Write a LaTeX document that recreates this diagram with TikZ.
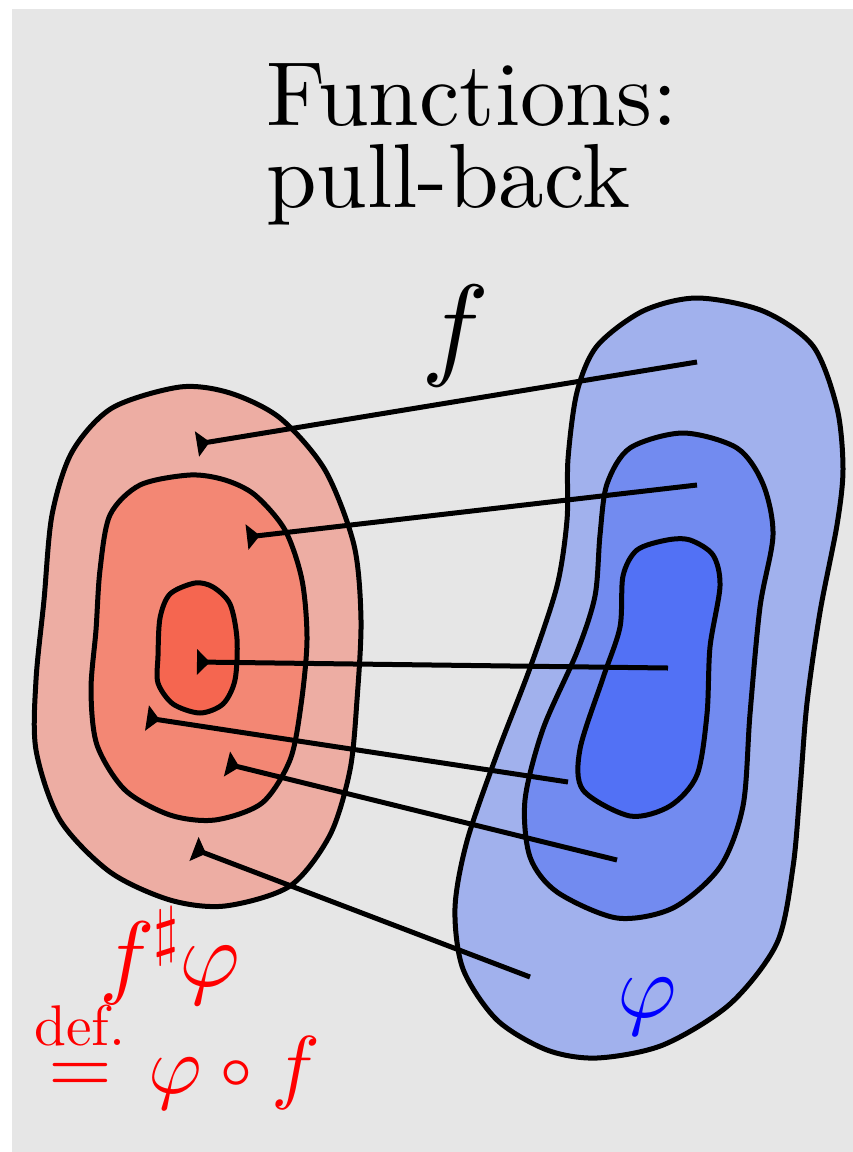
\documentclass[tikz,border=0pt]{standalone}
\usepackage{amsmath}
\usepackage{unicode-math}
\setmainfont{lmroman10-regular.otf}
\setmathfont{latinmodern-math.otf}
\usetikzlibrary{arrows.meta}
\definecolor{paper}{HTML}{E6E6E6}
\definecolor{redout}{HTML}{EDADA3}
\definecolor{redmid}{HTML}{F38774}
\definecolor{redin}{HTML}{F56650}
\definecolor{blueout}{HTML}{A1B1ED}
\definecolor{bluemid}{HTML}{728BF0}
\definecolor{bluein}{HTML}{5271F5}
\tikzset{
  >={Triangle[reversed,length=13pt,width=25pt]},
  blob/.style={draw=black,line width=5pt,line join=round},
  pullarrow/.style={->,line width=5pt},
  titletext/.style={inner sep=0pt,anchor=base west,font=\fontsize{91}{91}\selectfont},
  redtext/.style={inner sep=0pt,anchor=base,text=red},
  bluetext/.style={inner sep=0pt,anchor=base,text=blue,font=\fontsize{91}{91}\selectfont}
}

\begin{document}
\begin{tikzpicture}[x=1pt,y=-1pt]
  \useasboundingbox (0,0) rectangle (853,1152);
  \fill[paper] (12,9) rectangle (853,1152);
  % title
  \node[titletext] (title) at (266,125) {Functions:};
  \node[titletext] (subtitle) at (266,207) {pull-back};
  % domain (red)
  \draw[blob,fill=redout] plot[smooth cycle] coordinates {(180,387) (112,408) (72,452) (52,515) (44,600) (36,680) (36,750) (60,820) (110,872) (170,900) (225,906) (290,886) (330,835) (350,770) (357,700) (361,620) (354,545) (325,470) (280,418) (230,393)};
  \draw[blob,fill=redmid] plot[smooth cycle] coordinates {(190,475) (140,485) (110,515) (100,570) (96,630) (91,690) (97,745) (125,790) (170,815) (215,820) (262,803) (290,760) (301,705) (307,640) (302,580) (285,530) (255,495) (225,480)};
  \draw[blob,fill=redin] plot[smooth cycle] coordinates {(195,583) (170,594) (160,618) (158,656) (158,683) (173,704) (200,713) (223,704) (235,680) (237,639) (230,604) (213,587)};
  % codomain (blue)
  \draw[blob,fill=blueout] plot[smooth cycle] coordinates {(697,298) (643,311) (597,346) (577,392) (568,459) (567,520) (557,586) (530,668) (497,754) (467,841) (455,908) (463,969) (497,1020) (547,1050) (597,1058) (663,1045) (730,1004) (777,943) (793,867) (800,790) (807,703) (820,612) (837,525) (843,469) (837,408) (813,346) (763,311)};
  \draw[blob,fill=bluemid] plot[smooth cycle] coordinates {(683,433) (630,448) (607,484) (600,535) (595,596) (577,652) (543,729) (525,800) (530,857) (557,892) (617,918) (673,908) (720,867) (743,806) (750,714) (760,607) (773,535) (763,484) (737,448)};
  \draw[blob,fill=bluein] plot[smooth cycle] coordinates {(667,540) (637,550) (623,576) (620,627) (603,678) (580,749) (583,790) (630,816) (670,806) (697,775) (707,714) (710,647) (720,586) (713,555) (690,540)};
  % end points
  \coordinate (img1) at (697,362); \coordinate (pre1) at (197,444);
  \coordinate (img2) at (697,485); \coordinate (pre2) at (247,537);
  \coordinate (img3) at (668,668); \coordinate (pre3) at (197,662);
  \coordinate (img4) at (568,782); \coordinate (pre4) at (147,718);
  \coordinate (img5) at (617,860); \coordinate (pre5) at (227,764);
  \coordinate (img6) at (530,977); \coordinate (pre6) at (194,849);
  \foreach \i in {1,...,6} \draw[pullarrow] (img\i) -- (pre\i);
  % labels
  \node[inner sep=0pt,anchor=base,font=\fontsize{114}{114}\selectfont] (flabel) at (455,364) {$f$};
  \node[bluetext] (philabel) at (647,1017) {$\varphi$};
  \node[redtext,font=\fontsize{93}{93}\selectfont] (pbtop) at (170,986) {$f^\sharp\varphi$};
  \node[redtext,font=\fontsize{82}{82}\selectfont] (pbbottom) at (177,1093) {$\overset{\text{def.}}{=}\varphi\circ f$};
\end{tikzpicture}
\end{document}
